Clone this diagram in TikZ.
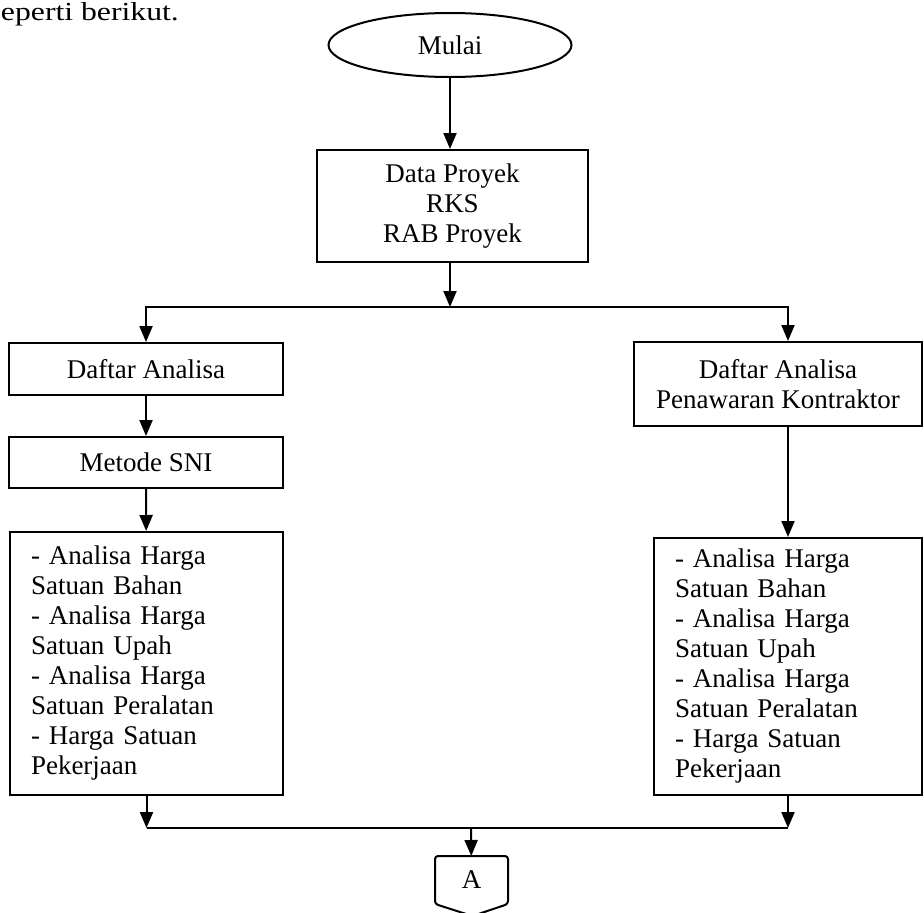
\documentclass[tikz,border=0pt]{standalone}
\usepackage{fontspec}
\setmainfont{Liberation Serif}
\usetikzlibrary{arrows.meta,shapes.geometric}

\begin{document}
\begin{tikzpicture}[x=1pt,y=-1pt,->,>={Triangle[length=16pt,width=13pt]},
            line width=2pt,font=\fontsize{27}{30}\selectfont,
            kotak/.style={draw,rectangle,inner sep=0pt,align=center},
            daftar/.style={draw,rectangle,inner sep=0pt,inner xsep=21pt,align=left}]

          \useasboundingbox (0,0) rectangle (924,913);

          \node[anchor=north west,inner sep=0pt,font=\fontsize{26}{30}\selectfont\addfontfeature{FakeStretch=1.22}]
                                                        (kalimat)   at (0,1) {eperti berikut.};

          \node[ellipse,draw,minimum width=243pt,minimum height=64pt,inner sep=0pt]
                                                        (mulai)     at (450,  45) {Mulai};
          \node[kotak,minimum width=271pt,minimum height=112pt]
                                                        (data)      at (452.5,206) {Data Proyek\\RKS\\RAB Proyek};
          \node[kotak,minimum width=274pt,minimum height=52pt]
                                                        (dafkiri)   at (146, 369) {Daftar Analisa};
          \node[kotak,minimum width=274pt,minimum height=51pt]
                                                        (metode)    at (146, 462.5) {Metode SNI};
          \node[daftar,text width=231pt,minimum height=263pt]
                                                        (analkiri)  at (146.5,663.5) {- Analisa Harga\\Satuan Bahan\\- Analisa Harga\\Satuan Upah\\- Analisa Harga\\Satuan Peralatan\\- Harga Satuan\\Pekerjaan};
          \node[kotak,minimum width=288pt,minimum height=84pt]
                                                        (dafkanan)  at (778, 384) {Daftar Analisa\\Penawaran Kontraktor};
          \node[daftar,text width=226pt,minimum height=257pt]
                                                        (analkanan) at (788, 666.5) {- Analisa Harga\\Satuan Bahan\\- Analisa Harga\\Satuan Upah\\- Analisa Harga\\Satuan Peralatan\\- Harga Satuan\\Pekerjaan};
          \node[minimum width=71pt,minimum height=46pt,inner sep=0pt]
                                                        (konA)      at (471.5,880) {A};
          \draw[-,rounded corners=3pt] (konA.south west) -- (konA.north west) -- (konA.north east)
                -- (konA.south east) -- ++(-35.5,12) -- cycle;

          \coordinate (cabang) at (450,307);
          \coordinate (gabung) at (471,828);

          \draw (mulai.south) -- (mulai.south |- data.north);
          \draw (data.south -| cabang) -- (cabang);
          \draw (cabang) -| (dafkiri);
          \draw (cabang) -| (dafkanan.north -| analkanan);
          \draw (dafkiri) -- (metode);
          \draw (metode) -- (analkiri);
          \draw (dafkanan.south -| analkanan) -- (analkanan);
          \draw (analkiri) -- (analkiri |- gabung);
          \draw (analkanan) -- (analkanan |- gabung);
          \draw[-] (analkiri |- gabung) -- (analkanan |- gabung);
          \draw (gabung) -- (konA);
        \end{tikzpicture}
\end{document}
